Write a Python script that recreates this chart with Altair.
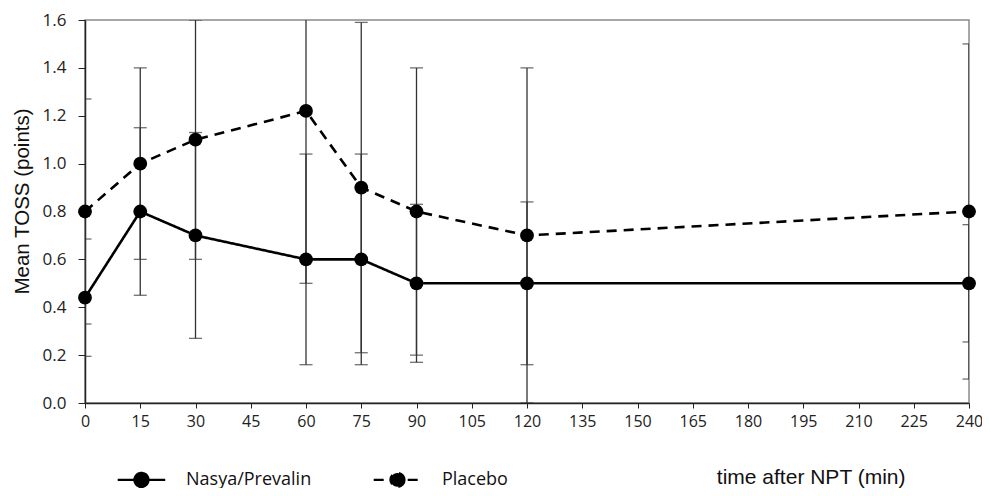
import altair as alt
import pandas as pd

# ---- data ----
x_labels = ["0", "15", "30", "45", "60", "75", "90", "105", "120", "135",
            "150", "165", "180", "195", "210", "225", "240"]
times = ["0", "15", "30", "60", "75", "90", "120", "240"]
nasya_mean = [0.44, 0.80, 0.70, 0.60, 0.60, 0.50, 0.50, 0.50]
nasya_err = [0.245, 0.35, 0.43, 0.44, 0.44, 0.33, 0.34, 0.245]
placebo_mean = [0.80, 1.00, 1.10, 1.22, 0.90, 0.80, 0.70, 0.80]
placebo_err = [0.47, 0.40, 0.50, 0.72, 0.69, 0.60, 0.70, 0.70]
series_names = ["Nasya/Prevalin", "Placebo"]

rows = []
for name, means, errs in [(series_names[0], nasya_mean, nasya_err),
                          (series_names[1], placebo_mean, placebo_err)]:
    for t, m, e in zip(times, means, errs):
        rows.append({"time": t, "series": name, "mean": m,
                     "lo": m - e, "hi": m + e})
df = pd.DataFrame(rows)

TICK_FONT = "Open Sans"
TITLE_FONT = "Liberation Sans"
LEGEND_FONT = "Open Sans"

x_enc = alt.X("time:O", sort=x_labels,
              scale=alt.Scale(domain=x_labels, type="point", padding=0),
              axis=alt.Axis(title="time after NPT (min)", labelAngle=0,
                            labelFont=TICK_FONT, labelFontSize=16,
                            labelColor="#222", labelPadding=5,
                            tickSize=5, tickColor="#222", domainColor="#222",
                            domainWidth=1.5,
                            titleFont=TITLE_FONT, titleFontSize=21,
                            titleFontWeight="normal", titleColor="#111",
                            titleX=820, titleY=80, titleAlign="right",
                            titleBaseline="alphabetic", titleAnchor="end"))
y_scale = alt.Scale(domain=[0, 1.6], nice=False, zero=True)
y_axis = alt.Axis(title="Mean TOSS (points)", values=[0, 0.2, 0.4, 0.6, 0.8, 1.0, 1.2, 1.4, 1.6],
                  format=".1f", grid=False,
                  labelFont=TICK_FONT, labelFontSize=17, labelColor="#222",
                  labelPadding=12, tickSize=7, tickColor="#222",
                  domainColor="#222", domainWidth=1.5,
                  titleFont=TITLE_FONT, titleFontSize=20.5,
                  titleFontWeight="normal", titleColor="#111",
                  titleX=-63, titleY=181, titleAngle=-90,
                  titleAlign="center", titleBaseline="middle")

base = alt.Chart(df)

bars = base.mark_rule(color="#333", strokeWidth=1.3, clip=True).encode(
    x=x_enc,
    y=alt.Y("lo:Q", scale=y_scale, axis=y_axis),
    y2="hi:Q",
)
caps_lo = base.mark_tick(color="#333", thickness=1.3, size=13, clip=True).encode(
    x=alt.X("time:O", sort=x_labels), y=alt.Y("lo:Q"))
caps_hi = base.mark_tick(color="#333", thickness=1.3, size=13, clip=True).encode(
    x=alt.X("time:O", sort=x_labels), y=alt.Y("hi:Q"))

dash_scale = alt.Scale(domain=series_names, range=[[1, 0], [10, 7]])

lines = base.mark_line(color="black", strokeWidth=2.6).encode(
    x=alt.X("time:O", sort=x_labels),
    y=alt.Y("mean:Q"),
    strokeDash=alt.StrokeDash("series:N", scale=dash_scale, legend=None),
    detail="series:N",
)

points = base.mark_point(filled=True, color="black", size=190, opacity=1).encode(
    x=alt.X("time:O", sort=x_labels),
    y=alt.Y("mean:Q"),
)

# legend symbol shape: a horizontal stroke with a dot in its middle
legend_path = ("M-1.7,0L0.28,0"
               "M-0.42,0A0.29,0.29,0,1,1,-1.0,0"
               "A0.29,0.29,0,1,1,-0.42,0Z")
legend_layer = base.transform_filter("false").mark_line(
    color="black", strokeWidth=2.4
).encode(
    x=alt.X("time:O", sort=x_labels),
    y=alt.Y("mean:Q"),
    strokeDash=alt.StrokeDash(
        "series:N", scale=dash_scale,
        legend=alt.Legend(title=None, orient="none", direction="horizontal",
                          legendX=48, legendY=434,
                          symbolType=legend_path, symbolSize=2304,
                          symbolStrokeColor="black", symbolStrokeWidth=2.4,
                          symbolFillColor="black",
                          labelFont=LEGEND_FONT, labelFontSize=18,
                          labelColor="#111", labelOffset=2,
                          columnPadding=56, symbolOpacity=1)),
)

chart = alt.layer(bars, caps_lo, caps_hi, lines, points, legend_layer).resolve_legend(
    strokeDash="independent"
).properties(
    width=884, height=383,
    autosize=alt.AutoSizeParams(type="none"),
    padding={"left": 77, "top": 12, "right": 13, "bottom": 85},
    background="white",
).configure_view(stroke="#8a8a8a", strokeWidth=1.5)

chart.save("out.html", embed_options={"renderer": "svg", "actions": False})
